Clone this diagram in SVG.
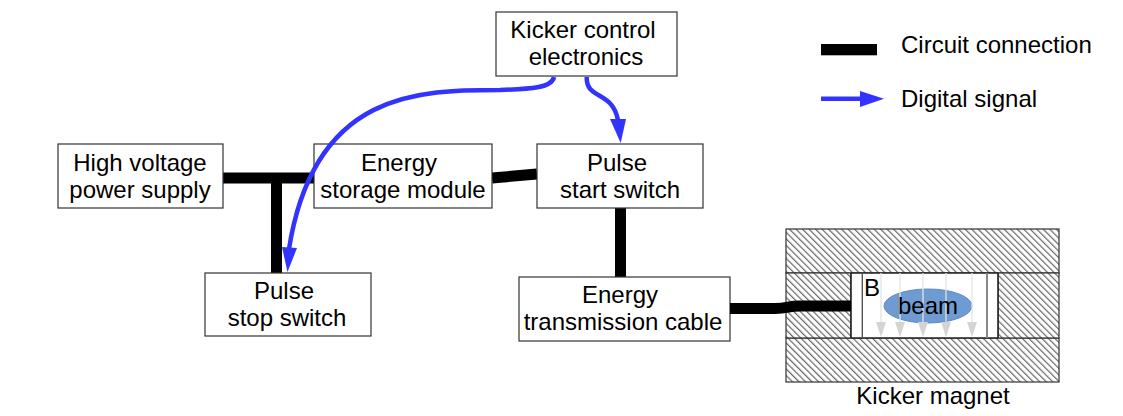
<svg xmlns="http://www.w3.org/2000/svg" width="1123" height="416" viewBox="0 0 1123 416">
<style>
text{font-family:"Liberation Sans",Arial,sans-serif;font-size:24px;fill:#000;text-anchor:middle}
.box{fill:#fff;stroke:#333;stroke-width:1.2}
.wire{fill:none;stroke:#000;stroke-width:11}
.sig{fill:none;stroke:#3333ff;stroke-width:4.5}
.head{fill:#3333ff}
.hat{fill:url(#hatch);stroke:#333;stroke-width:1.2}
.field{stroke:#e4e4e4;stroke-width:1.3}
.fhead{fill:#d4d4d4}
</style>
<defs>
<pattern id="hatch" patternUnits="userSpaceOnUse" width="4.6" height="4.6" patternTransform="rotate(-45)">
<rect width="4.6" height="4.6" fill="#fff"/>
<rect x="0" y="0" width="1.2" height="4.6" fill="#666"/>
</pattern>
</defs>
<rect width="1123" height="416" fill="#fff"/>
<g id="connectors">
<path class="wire" d="M223,178H314"/>
<path class="wire" d="M276.500,178V273"/>
<path class="wire" d="M492,178L537,174"/>
<path class="wire" d="M620.500,208V277"/>
</g>
<g id="kicker-control"><rect class="box" x="496" y="12" width="181" height="64"/><text x="583" y="38">Kicker control</text><text x="586" y="65">electronics</text></g>
<g id="hv-supply"><rect class="box" x="58" y="144" width="165" height="64"/><text x="140" y="171">High voltage</text><text x="140" y="198">power supply</text></g>
<g id="energy-storage"><rect class="box" x="314" y="144" width="178" height="64"/><text x="399" y="171">Energy</text><text x="403" y="198">storage module</text></g>
<g id="pulse-start"><rect class="box" x="537" y="144" width="166" height="64"/><text x="617" y="171">Pulse</text><text x="620" y="198">start switch</text></g>
<g id="pulse-stop"><rect class="box" x="205" y="273" width="166" height="63"/><text x="284" y="299">Pulse</text><text x="287" y="326">stop switch</text></g>
<g id="transmission-cable"><rect class="box" x="519" y="277" width="211" height="64"/><text x="620" y="303">Energy</text><text x="623" y="330">transmission cable</text></g>
<g id="kicker-magnet">
<rect class="hat" x="786" y="229" width="273" height="44"/>
<rect class="hat" x="786" y="338" width="273" height="44"/>
<rect class="hat" x="786" y="273" width="65" height="65"/>
<rect class="hat" x="998" y="273" width="61" height="65"/>
<rect x="851" y="273" width="147" height="65" fill="#fff"/>
<path d="M851,273H998M851,338H998M851,273V338M998,273V338" fill="none" stroke="#222" stroke-width="1.6"/>
<path d="M862.300,273V338" stroke="#555" stroke-width="1.4"/>
<path d="M987,273V338" stroke="#888" stroke-width="2"/>
<ellipse cx="928" cy="306" rx="44" ry="17" fill="#6e9bd2" stroke="#5f8cc4" stroke-width="1"/>
<g>
<path class="field" d="M881,273V322M900,273V322M923,273V322M946,273V322M972,273V322"/>
<path class="fhead" d="M876,322H886L881,337ZM895,322H905L900,337ZM918,322H928L923,337ZM941,322H951L946,337ZM967,322H977L972,337Z"/>
</g>
<text x="872" y="296">B</text>
<text x="928" y="314">beam</text>
<text x="933" y="404">Kicker magnet</text>
</g>
<g id="connectors-over">
<path class="wire" d="M730,308.500H775C788,308.500 788,306 800,306H851"/>
<path class="sig" d="M554,77C552,88 530,89 500,90C420,90 314,90 289,249"/>
<path class="head" d="M282,247L297,248L287.500,272Z"/>
<path class="sig" d="M586.700,77C586,100 612,90 618,120"/>
<path class="head" d="M610,119H626L620.700,143Z"/>
</g>
<g id="legend">
<rect x="821" y="44" width="56" height="11.300" fill="#000"/>
<path class="sig" d="M821,98.800H862" stroke-width="4"/>
<path class="head" d="M860,91L884,98.800L860,107Z"/>
<text x="901" y="53" style="text-anchor:start">Circuit connection</text>
<text x="901" y="107" style="text-anchor:start">Digital signal</text>
</g>
</svg>
